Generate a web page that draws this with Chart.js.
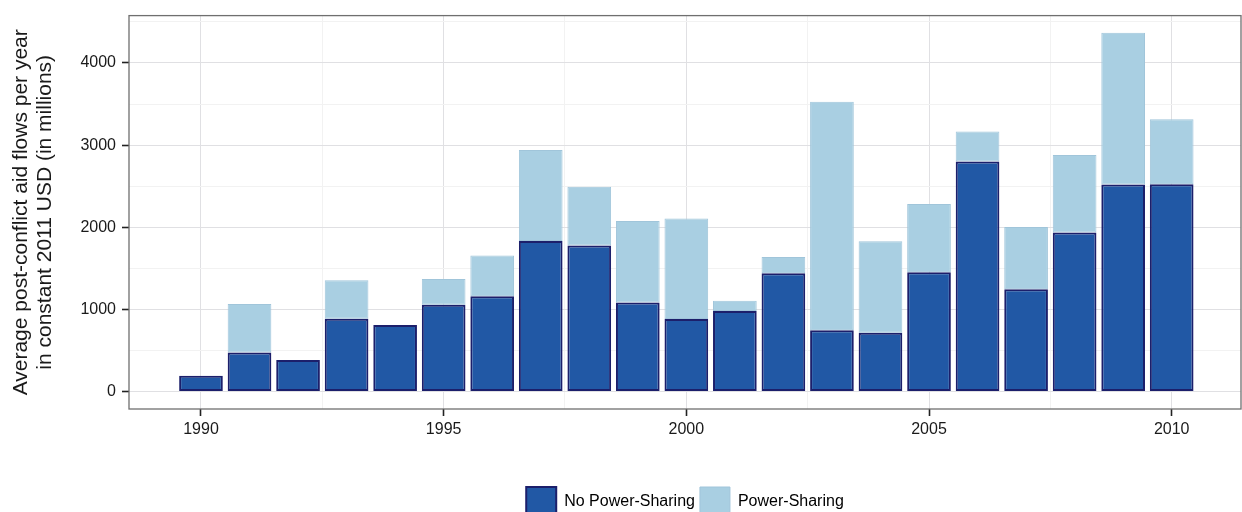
<!DOCTYPE html>
<html>
<head>
<meta charset="utf-8">
<script src="https://cdn.jsdelivr.net/npm/chart.js@4"></script>
<style>
  html, body { margin: 0; padding: 0; background: #ffffff; overflow: hidden; }
  #wrap { width: 1242px; height: 512px; position: relative; }
</style>
</head>
<body>
<div id="wrap"><canvas id="c"></canvas></div>
<script>
// ---- data ----
const years = [1990, 1991, 1992, 1993, 1994, 1995, 1996, 1997, 1998, 1999, 2000,
               2001, 2002, 2003, 2004, 2005, 2006, 2007, 2008, 2009, 2010];
const noPowerSharing = [193, 475, 383, 887, 810, 1056, 1161, 1834, 1778, 1084, 883,
                        980, 1440, 745, 714, 1452, 2802, 1246, 1936, 2520, 2524];
const powerSharing = [null, 590, null, 468, null, 315, 496, 1106, 714, 992, 1222,
                      125, 197, 2783, 1117, 830, 363, 758, 943, 1848, 791];
const xTickValues = [1990, 1992.5, 1995, 1997.5, 2000, 2002.5, 2005, 2007.5, 2010];
const xLabelYears = [1990, 1995, 2000, 2005, 2010];
const yTickValues = [0, 500, 1000, 1500, 2000, 2500, 3000, 3500, 4000, 4500];
const yLabelValues = [0, 1000, 2000, 3000, 4000];
const seriesNames = ['No Power-Sharing', 'Power-Sharing'];
const yTitle = ['Average post-conflict aid flows per year', 'in constant 2011 USD (in millions)'];

const FONT = "'Liberation Sans', Arial, Helvetica, sans-serif";
const MAJOR = '#e0e0e3';
const MINOR = '#f2f2f2';

const panelBorder = {
  id: 'panelBorder',
  afterDraw(chart) {
    const a = chart.chartArea, ctx = chart.ctx;
    ctx.save();
    ctx.strokeStyle = '#6f6f6f';
    ctx.lineWidth = 1.3;
    ctx.strokeRect(a.left, a.top, a.right - a.left, a.bottom - a.top);
    ctx.restore();
  }
};

new Chart(document.getElementById('c'), {
  type: 'bar',
  data: {
    labels: years,
    datasets: [
      {
        label: seriesNames[0],
        data: noPowerSharing,
        backgroundColor: '#2158a5',
        borderColor: '#1c1f6b',
        borderWidth: 2,
        borderSkipped: false,
        barPercentage: 0.9,
        categoryPercentage: 1.0
      },
      {
        label: seriesNames[1],
        data: powerSharing,
        backgroundColor: '#a9cfe2',
        borderColor: '#a0c5da',
        borderWidth: 1,
        borderSkipped: false,
        barPercentage: 0.9,
        categoryPercentage: 1.0
      }
    ]
  },
  options: {
    responsive: true,
    maintainAspectRatio: false,
    animation: false,
    layout: { padding: { top: 13, right: 1, bottom: -15, left: 0 } },
    plugins: {
      tooltip: { enabled: false },
      legend: {
        position: 'bottom',
        fullSize: false,
        labels: {
          boxWidth: 30,
          boxHeight: 30,
          padding: 5,
          color: '#000000',
          font: { family: FONT, size: 16 }
        }
      }
    },
    scales: {
      x: {
        type: 'linear',
        stacked: true,
        offset: false,
        min: 1988.517,
        max: 2011.428,
        afterFit: s => { s.height = 73; },
        afterBuildTicks: s => { s.ticks = xTickValues.map(v => ({ value: v })); },
        border: { display: false },
        grid: {
          offset: false,
          drawTicks: true,
          tickLength: 7,
          color: c => (c.tick && xLabelYears.includes(c.tick.value)) ? MAJOR : MINOR,
          tickColor: c => (c.tick && xLabelYears.includes(c.tick.value)) ? '#222222' : 'rgba(0,0,0,0)',
          tickWidth: 1.6,
          lineWidth: 1
        },
        ticks: {
          autoSkip: false,
          maxRotation: 0,
          padding: 4,
          color: '#1a1a1a',
          font: { family: FONT, size: 16 },
          callback: v => xLabelYears.includes(v) ? String(v) : ''
        }
      },
      y: {
        type: 'linear',
        stacked: true,
        min: -213,
        max: 4577,
        afterFit: s => { s.width = 129; },
        afterBuildTicks: s => { s.ticks = yTickValues.map(v => ({ value: v })); },
        border: { display: false },
        grid: {
          drawTicks: true,
          tickLength: 7,
          color: c => (c.tick && yLabelValues.includes(c.tick.value)) ? MAJOR : MINOR,
          tickColor: c => (c.tick && yLabelValues.includes(c.tick.value)) ? '#222222' : 'rgba(0,0,0,0)',
          tickWidth: 1.6,
          lineWidth: 1
        },
        ticks: {
          padding: 6,
          color: '#1a1a1a',
          font: { family: FONT, size: 16 },
          callback: v => yLabelValues.includes(v) ? String(v) : ''
        },
        title: {
          display: true,
          text: yTitle,
          color: '#1a1a1a',
          font: { family: FONT, size: 21, lineHeight: 1.16 },
          padding: { top: 9, bottom: 0 }
        }
      }
    }
  },
  plugins: [panelBorder]
});
</script>
</body>
</html>
